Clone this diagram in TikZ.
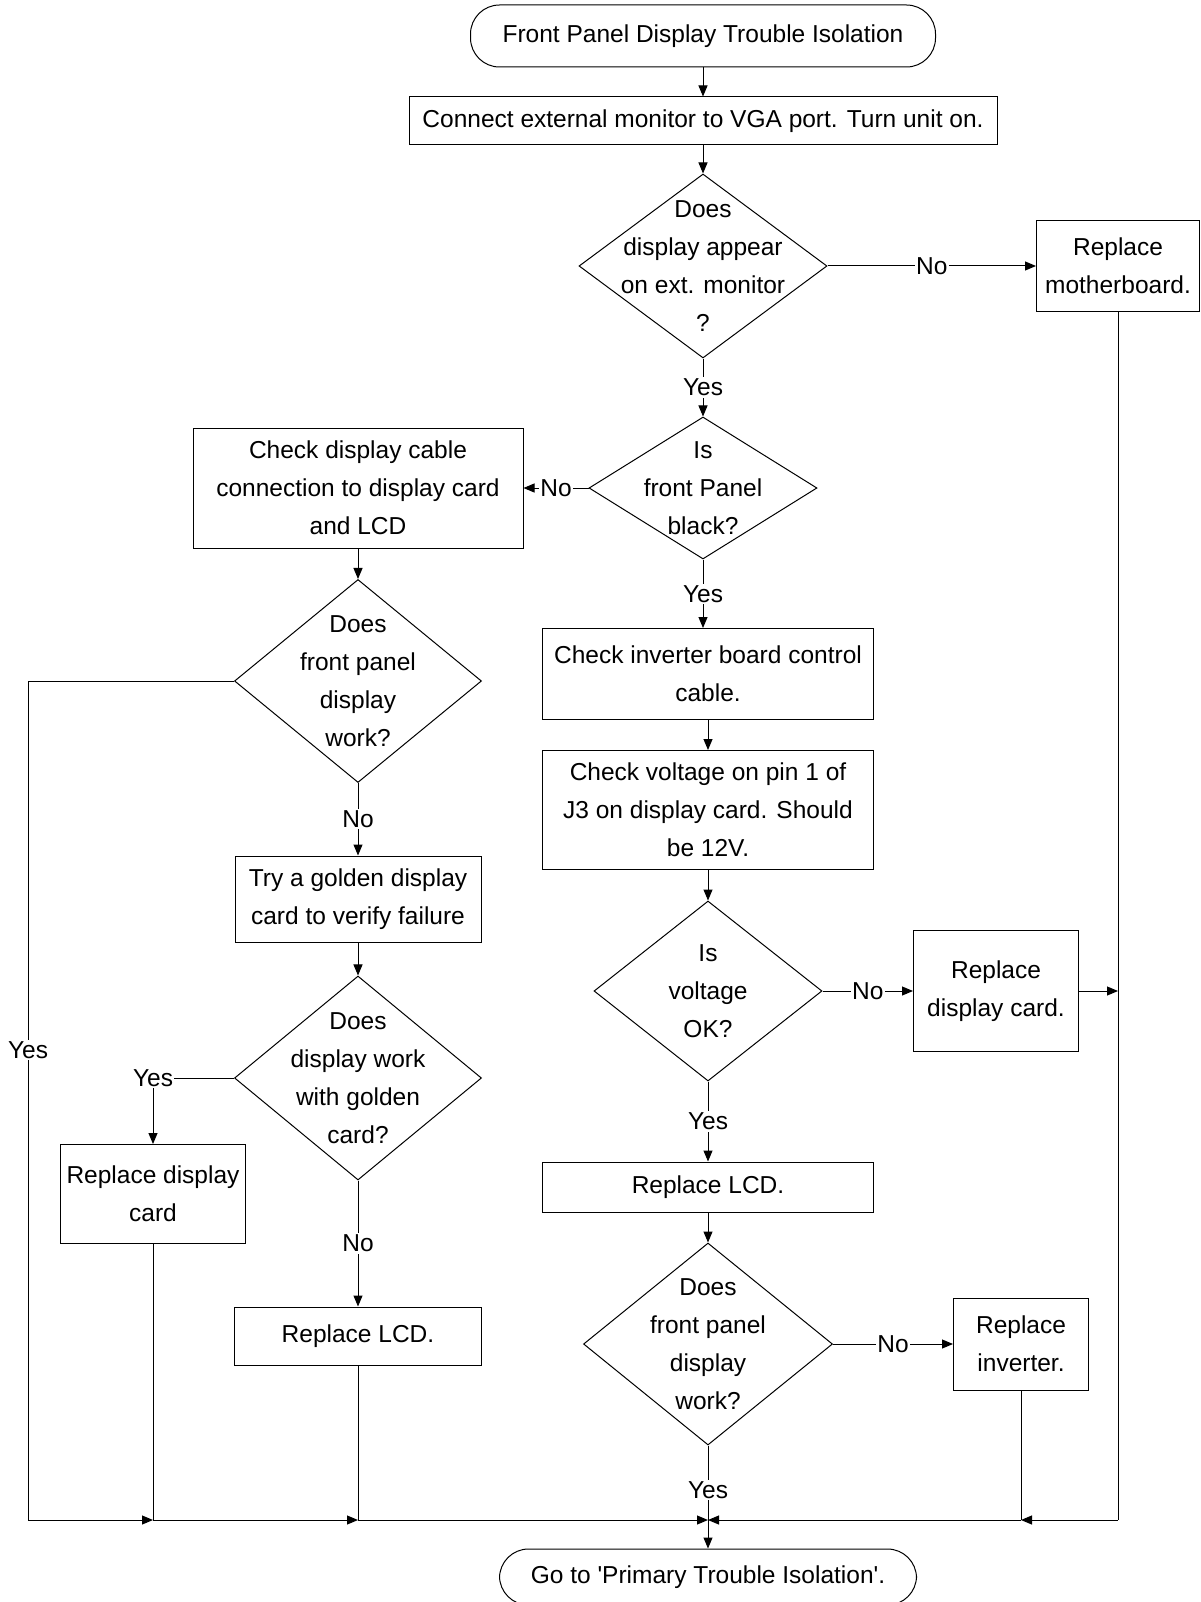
\documentclass[tikz,border=0pt]{standalone}
\usepackage{fontspec}
\setmainfont{Liberation Sans}
\usetikzlibrary{shapes.geometric, arrows.meta, positioning}

\tikzset{
  txt/.style={font=\fontsize{24.5}{37.8}\selectfont, align=center},
  stepbox/.style={draw, rectangle, txt, inner sep=2pt, line width=1pt},
  term/.style={draw, rectangle, rounded corners=29pt, txt, line width=1pt},
  decision/.style={draw, diamond, inner sep=0pt, line width=1pt},
  lbl/.style={txt, fill=white, inner sep=1.5pt},
  arr/.style={-{Triangle[length=11pt,width=9pt]}, line width=1pt},
  wire/.style={line width=1pt},
}

\begin{document}
\begin{tikzpicture} [x=1pt, y=-1pt, on grid]

\useasboundingbox (0,0) rectangle (1200,1602);

\node (start) [term, minimum width=465pt, minimum height=62pt] at (703,36) {Front Panel Display Trouble Isolation};
\node (conn) [stepbox, minimum width=588pt, minimum height=48pt, below = 85pt of start] {Connect external monitor to VGA port. Turn unit on.};

\node (d1) [decision, minimum width=248pt, minimum height=184pt, below = 145pt of conn,
  label={[txt]center:Does\\display appear\\on ext. monitor\\?}] {};
\node (mobo) [stepbox, minimum width=163pt, minimum height=91pt, right = 415pt of d1] {Replace\\motherboard.};

\node (d2) [decision, minimum width=228pt, minimum height=142pt, below = 222pt of d1,
  label={[txt]center:Is\\front Panel\\black?}] {};

% right column
\node (inv) [stepbox, minimum width=331pt, minimum height=91pt, below right = 186pt and 5pt of d2] {Check inverter board control\\cable.};
\node (volt) [stepbox, minimum width=331pt, minimum height=119pt, below = 136pt of inv] {Check voltage on pin 1 of\\J3 on display card. Should\\be 12V.};
\node (d3) [decision, minimum width=228pt, minimum height=180pt, below = 181pt of volt,
  label={[txt]center:Is\\voltage\\OK?}] {};
\node (rdc) [stepbox, minimum width=165pt, minimum height=121pt, right = 288pt of d3] {Replace\\display card.};
\node (lcd) [stepbox, minimum width=331pt, minimum height=50pt, below = 196pt of d3] {Replace LCD.};
\node (d4) [decision, minimum width=249pt, minimum height=202pt, below = 157pt of lcd,
  label={[txt]center:Does\\front panel\\display\\work?}] {};
\node (rinv) [stepbox, minimum width=135pt, minimum height=92pt, right = 313pt of d4] {Replace\\inverter.};

% left column
\node (cable) [stepbox, minimum width=330pt, minimum height=120pt, left = 345pt of d2] {Check display cable\\connection to display card\\and LCD};
\node (dl1) [decision, minimum width=247pt, minimum height=203pt, below = 193pt of cable,
  label={[txt]center:Does\\front panel\\display\\work?}] {};
\node (gold) [stepbox, minimum width=246pt, minimum height=86pt, below = 218pt of dl1] {Try a golden display\\card to verify failure};
\node (dl2) [decision, minimum width=247pt, minimum height=204pt, below = 179pt of gold,
  label={[txt]center:Does\\display work\\with golden\\card?}] {};
\node (rdc2) [stepbox, minimum width=185pt, minimum height=99pt, below left = 116pt and 205pt of dl2] {Replace display\\card};
\node (lcd2) [stepbox, minimum width=247pt, minimum height=58pt, below = 258pt of dl2] {Replace LCD.};

% bottom
\coordinate [below = 176pt of d4] (join);
\coordinate [left = 680pt of join] (lbot);
\node (end) [term, minimum width=417pt, minimum height=56pt, below = 233pt of d4] {Go to \textquotesingle Primary Trouble Isolation\textquotesingle.};

\path [arr]
  (start) edge (conn)
  (conn) edge (d1)
  (d1) edge node [lbl] {No} (mobo)
  (d1) edge node [lbl] {Yes} (d2)
  (d2) edge node [lbl] {No} (cable)
  (d2.south) edge node [lbl] {Yes} (d2.south |- inv.north);

\path [arr]
  (inv) edge (volt)
  (volt) edge (d3)
  (d3) edge node [lbl] {No} (rdc)
  (d3) edge node [lbl] {Yes} (lcd)
  (lcd) edge (d4)
  (d4) edge node [lbl] {No} (rinv)
  (rdc) edge (rdc -| mobo);

\path [arr]
  (cable) edge (dl1)
  (dl1) edge node [lbl] {No} (gold)
  (gold) edge (dl2)
  (dl2) edge node [lbl] {No} (lcd2);

\draw [arr] (dl2.west) -| node [lbl, pos=0.5] {Yes} (rdc2.north);
\draw [wire] (dl1.west) -| node [lbl, pos=0.72] {Yes} (lbot);

% back to the exit
\draw [wire] (rdc2) -- (rdc2 |- join);
\draw [wire] (lcd2) -- (lcd2 |- join);
\draw [wire] (mobo) -- (mobo |- join);
\draw [wire] (rinv) -- (rinv |- join);
\draw [wire] (d4) -- node [lbl, pos=0.6] {Yes} (join);
\draw [arr] (lbot) -- (rdc2 |- join);
\draw [arr] (rdc2 |- join) -- (lcd2 |- join);
\draw [arr] (lcd2 |- join) -- (join);
\draw [arr] (mobo |- join) -- (rinv |- join);
\draw [arr] (rinv |- join) -- (join);
\draw [arr] (join) -- (end);

\end{tikzpicture}
\end{document}
